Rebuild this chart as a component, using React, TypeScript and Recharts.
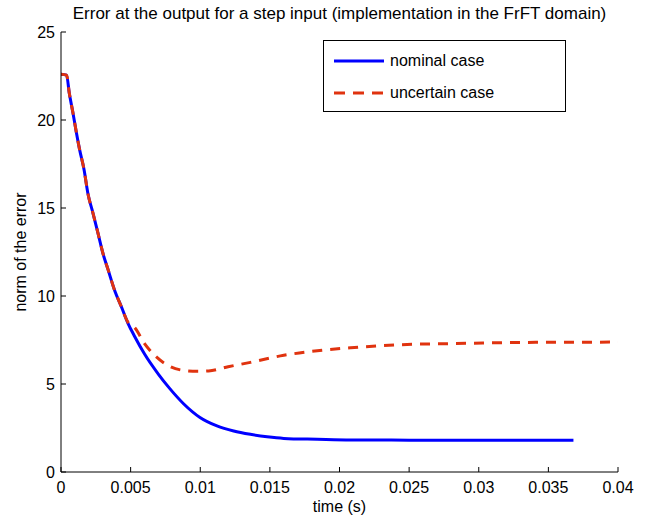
import React from "react";
import { LineChart, Line, XAxis, YAxis, Legend } from "recharts";

// plot box edges in px (matlab-style frame)
const LEFT = 61;
const RIGHT = 618;
const TOP = 32;
const BOTTOM = 472;
const FONT = '"Liberation Sans", Arial, Helvetica, sans-serif';

const X_TICKS = [0, 0.005, 0.01, 0.015, 0.02, 0.025, 0.03, 0.035, 0.04];
const Y_TICKS = [0, 5, 10, 15, 20, 25];

const NOMINAL_T = [
  0, 0.0004, 0.0006, 0.00086, 0.0011, 0.00134, 0.00165, 0.00194, 0.0023, 0.00266,
  0.00302, 0.00338, 0.00386, 0.00433, 0.00481, 0.00529, 0.006, 0.007, 0.0078, 0.0088,
  0.00998, 0.0112, 0.0124, 0.0136, 0.0148, 0.016, 0.0184, 0.0208, 0.025, 0.03, 0.0368,
];
const NOMINAL_V = [
  22.6, 22.55, 21.5, 20.4, 19.3, 18.3, 17.2, 15.8, 14.7, 13.56,
  12.4, 11.5, 10.3, 9.4, 8.45, 7.7, 6.7, 5.55, 4.75, 3.88,
  3.1, 2.62, 2.33, 2.14, 2.0, 1.91, 1.86, 1.82, 1.81, 1.8, 1.8,
];

const UNCERTAIN_T = [
  0, 0.0004, 0.0006, 0.00086, 0.0011, 0.00134, 0.00165, 0.00194, 0.0023, 0.00266,
  0.00302, 0.00338, 0.00386, 0.00433, 0.00481, 0.0053, 0.006, 0.0067, 0.0077, 0.0089,
  0.0098, 0.0106, 0.012, 0.0136, 0.016, 0.0184, 0.0208, 0.0231, 0.0255, 0.0279,
  0.0303, 0.0351, 0.04,
];
const UNCERTAIN_V = [
  22.6, 22.55, 21.5, 20.4, 19.3, 18.3, 17.2, 15.8, 14.7, 13.56,
  12.4, 11.5, 10.3, 9.4, 8.5, 8.2, 7.3, 6.65, 6.05, 5.76,
  5.72, 5.74, 5.98, 6.23, 6.63, 6.89, 7.06, 7.18, 7.26, 7.29,
  7.33, 7.37, 7.38,
];

const nominal = NOMINAL_T.map((t, i) => ({ t, v: NOMINAL_V[i] }));
const uncertain = UNCERTAIN_T.map((t, i) => ({ t, v: UNCERTAIN_V[i] }));

const BLUE = "#0000ff";
const RED = "#e0330f";
const TICK_LEN = 5;

const BottomTick = (props: any) => {
  const { x, payload } = props;
  return (
    <g>
      <line x1={x} x2={x} y1={BOTTOM} y2={BOTTOM - TICK_LEN} stroke="#000" />
      <text x={x} y={BOTTOM + 21} textAnchor="middle" fontSize={16} fontFamily={FONT} fill="#000">
        {String(payload.value)}
      </text>
    </g>
  );
};

const TopTick = (props: any) => (
  <line x1={props.x} x2={props.x} y1={TOP} y2={TOP + TICK_LEN} stroke="#000" />
);

const LeftTick = (props: any) => {
  const { y, payload } = props;
  return (
    <g>
      <line x1={LEFT} x2={LEFT + TICK_LEN} y1={y} y2={y} stroke="#000" />
      <text x={LEFT - 6} y={y + 6} textAnchor="end" fontSize={16} fontFamily={FONT} fill="#000">
        {String(payload.value)}
      </text>
    </g>
  );
};

const RightTick = (props: any) => (
  <line x1={RIGHT} x2={RIGHT - TICK_LEN} y1={props.y} y2={props.y} stroke="#000" />
);

const LegendBox = () => (
  <div
    style={{
      width: 243,
      height: 72,
      boxSizing: "border-box",
      border: "1px solid #000",
      background: "#fff",
      fontFamily: FONT,
      fontSize: 16,
      color: "#000",
      position: "relative",
    }}
  >
    <svg width={60} height={72} style={{ position: "absolute", left: 0, top: 0 }}>
      <line x1={10} x2={60} y1={20} y2={20} stroke={BLUE} strokeWidth={3} />
      <line x1={10} x2={60} y1={52} y2={52} stroke={RED} strokeWidth={3} strokeDasharray="11 8" />
    </svg>
    <div style={{ position: "absolute", left: 66, top: 10, lineHeight: "20px" }}>nominal case</div>
    <div style={{ position: "absolute", left: 66, top: 42, lineHeight: "20px" }}>uncertain case</div>
  </div>
);

export default function App() {
  return (
    <div style={{ position: "relative", width: 649, height: 518, background: "#fff" }}>
      <style>{"body{margin:0}"}</style>
      <LineChart
        width={649}
        height={518}
        margin={{ top: TOP, right: 649 - RIGHT, bottom: 0, left: 0 }}
      >
        <XAxis
          xAxisId="b"
          type="number"
          dataKey="t"
          domain={[0, 0.04]}
          ticks={X_TICKS}
          height={518 - BOTTOM}
          axisLine={{ stroke: "#000" }}
          tickLine={false}
          tick={<BottomTick />}
          allowDataOverflow
        />
        <XAxis
          xAxisId="top"
          orientation="top"
          type="number"
          dataKey="t"
          domain={[0, 0.04]}
          ticks={X_TICKS}
          height={0}
          axisLine={{ stroke: "#000" }}
          tickLine={false}
          tick={<TopTick />}
        />
        <YAxis
          yAxisId="l"
          type="number"
          domain={[0, 25]}
          ticks={Y_TICKS}
          width={LEFT}
          axisLine={{ stroke: "#000" }}
          tickLine={false}
          tick={<LeftTick />}
        />
        <YAxis
          yAxisId="r"
          orientation="right"
          type="number"
          domain={[0, 25]}
          ticks={Y_TICKS}
          width={0}
          axisLine={{ stroke: "#000" }}
          tickLine={false}
          tick={<RightTick />}
        />
        <Legend
          layout="horizontal"
          align="center"
          verticalAlign="middle"
          content={<LegendBox />}
          wrapperStyle={{ position: "absolute", left: 323, top: 40, width: 243, height: 72 }}
        />
        <Line
          xAxisId="b"
          yAxisId="l"
          data={nominal}
          dataKey="v"
          name="nominal case"
          type="monotone"
          stroke={BLUE}
          strokeWidth={3}
          dot={false}
          isAnimationActive={false}
        />
        <Line
          xAxisId="b"
          yAxisId="l"
          data={uncertain}
          dataKey="v"
          name="uncertain case"
          type="monotone"
          stroke={RED}
          strokeWidth={3}
          strokeDasharray="10 8"
          dot={false}
          isAnimationActive={false}
        />
      </LineChart>
      <div
        style={{
          position: "absolute",
          left: 0,
          width: 679,
          top: 4,
          textAlign: "center",
          fontFamily: FONT,
          fontSize: 17,
          whiteSpace: "nowrap",
        }}
      >
        Error at the output for a step input (implementation in the FrFT domain)
      </div>
      <div
        style={{
          position: "absolute",
          left: LEFT,
          width: RIGHT - LEFT,
          top: 498,
          textAlign: "center",
          fontFamily: FONT,
          fontSize: 16,
          lineHeight: "18px",
        }}
      >
        time (s)
      </div>
      <div
        style={{
          position: "absolute",
          left: 21,
          top: (TOP + BOTTOM) / 2,
          transform: "translate(-50%, -50%) rotate(-90deg)",
          fontFamily: FONT,
          fontSize: 16,
          whiteSpace: "nowrap",
        }}
      >
        norm of the error
      </div>
    </div>
  );
}
